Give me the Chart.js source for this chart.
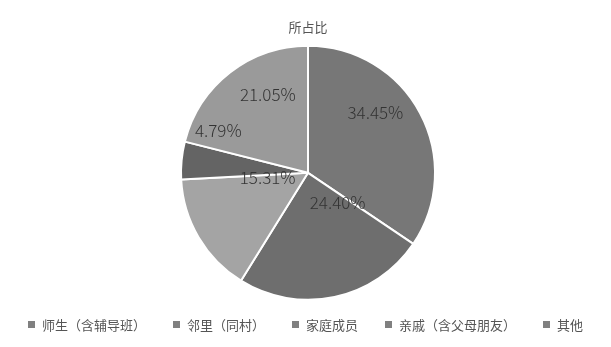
<!DOCTYPE html>
<html>
<head>
<meta charset="utf-8">
<script src="https://cdn.jsdelivr.net/npm/chart.js@4/dist/chart.umd.min.js"></script>
<style>
  html, body { margin: 0; padding: 0; background: #fff; }
  #wrap { position: relative; width: 611px; height: 347px; }
  #legend {
    position: absolute; left: 0; top: 316px; width: 611px;
    display: flex; justify-content: center; gap: 27px;
    font: 13px "Noto Sans CJK SC", sans-serif; color: #555555; line-height: 18px;
  }
  #legend span.box {
    display: inline-block; width: 7px; height: 7px; background: #808080;
    margin-right: 7px; vertical-align: 2px;
  }
</style>
</head>
<body>
<div id="wrap">
  <canvas id="pieChart" width="611" height="347"></canvas>
  <div id="legend"></div>
</div>
<script>
// categorieen en aandelen (in %)
const categories = ["师生（含辅导班）", "邻里（同村）", "家庭成员", "亲戚（含父母朋友）", "其他"];
const shares = [34.45, 24.40, 15.31, 4.79, 21.05];
const sliceColors = ["#777777", "#6e6e6e", "#a4a4a4", "#646464", "#9a9a9a"];

// plek van elk label: deel van de boog en deel van de straal
const labelArcFrac = [0.39, 0.125, 0.93, 1.63, 0.64];
const labelRadiusFrac = [0.71, 0.33, 0.32, 0.78, 0.69];

const pieLabels = {
  id: "pieLabels",
  afterDatasetsDraw(chart) {
    const ctx = chart.ctx;
    const meta = chart.getDatasetMeta(0);
    ctx.save();
    ctx.font = '300 17px "Noto Sans CJK SC", sans-serif';
    ctx.fillStyle = "#333333";
    ctx.textAlign = "center";
    ctx.textBaseline = "middle";
    meta.data.forEach((arc, i) => {
      const p = arc.getProps(["x", "y", "startAngle", "endAngle", "outerRadius"], true);
      const a = p.startAngle + labelArcFrac[i] * (p.endAngle - p.startAngle);
      const r = labelRadiusFrac[i] * p.outerRadius;
      ctx.fillText(shares[i].toFixed(2) + "%", p.x + Math.cos(a) * r, p.y + Math.sin(a) * r);
    });
    ctx.restore();
  }
};

function buildLegend() {
  const legend = document.getElementById("legend");
  categories.forEach(name => {
    const item = document.createElement("div");
    const box = document.createElement("span");
    box.className = "box";
    item.appendChild(box);
    item.appendChild(document.createTextNode(name));
    legend.appendChild(item);
  });
}

document.addEventListener("DOMContentLoaded", () => {
  const ctx = document.getElementById("pieChart").getContext("2d");
  new Chart(ctx, {
    type: "pie",
    data: {
      labels: categories,
      datasets: [{
        data: shares,
        backgroundColor: sliceColors,
        borderColor: "#ffffff",
        borderWidth: 2,
        radius: 127
      }]
    },
    options: {
      responsive: false,
      animation: false,
      layout: { padding: { left: 5, right: 0, top: 0, bottom: 36 } },
      plugins: {
        legend: { display: false },
        tooltip: { enabled: false },
        title: {
          display: true,
          text: "所占比",
          color: "#555555",
          font: { family: '"Noto Sans CJK SC", sans-serif', size: 13, weight: "normal" },
          padding: { top: 19, bottom: 0 }
        }
      }
    },
    plugins: [pieLabels]
  });
  buildLegend();
});
</script>
</body>
</html>
